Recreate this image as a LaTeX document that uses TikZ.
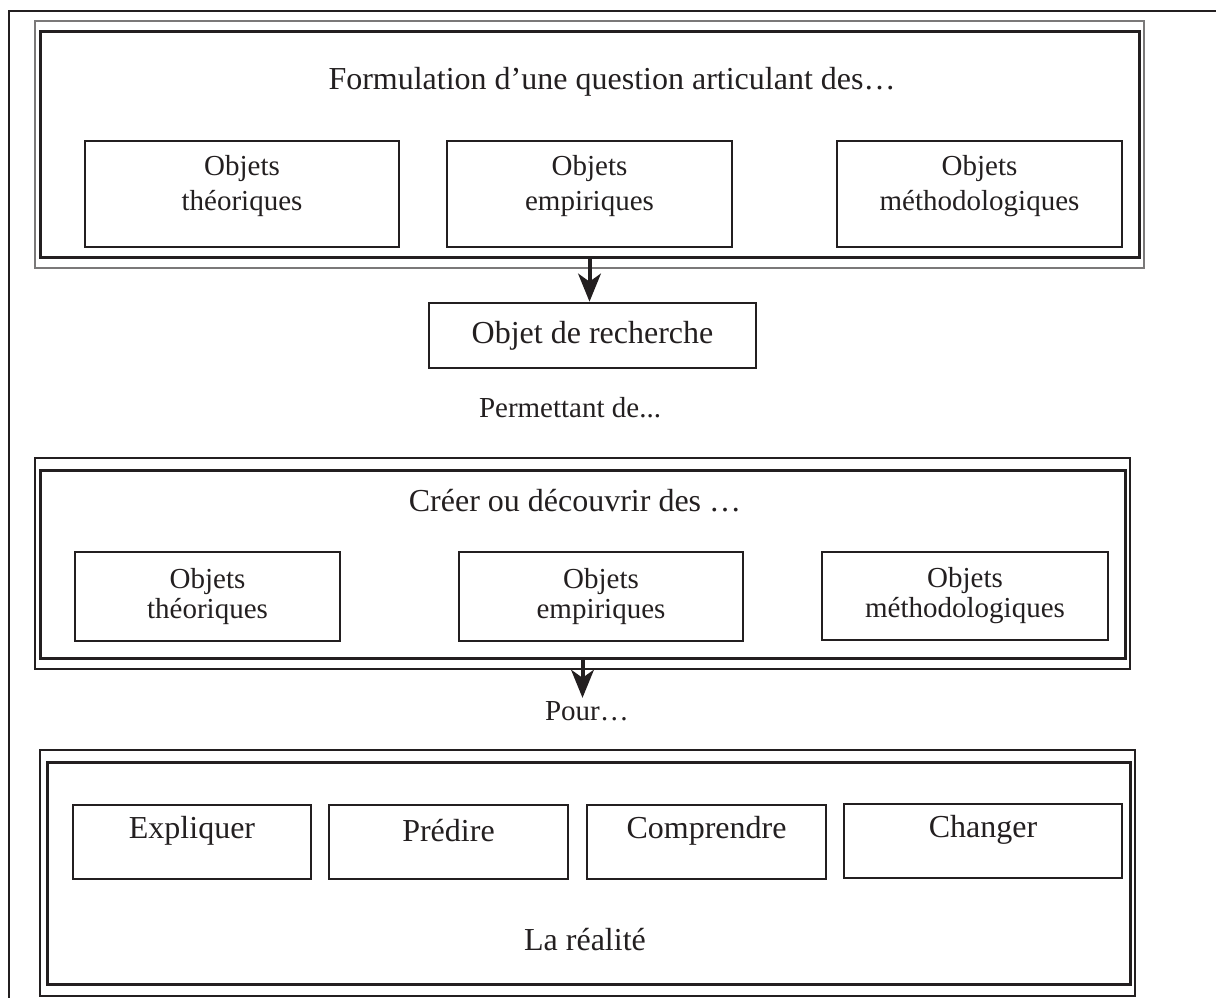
\documentclass[tikz,border=0pt]{standalone}
\usepackage{fontspec}
\setmainfont{Liberation Serif}
\usetikzlibrary{arrows.meta,fit}
\definecolor{ink}{RGB}{35,31,32}
\tikzset{every picture/.style={line width=0.75pt}}
\tikzset{
  frameline/.style={draw=ink, line width=2.25pt, inner sep=0pt},
  thinframe/.style={draw=ink!60, line width=0.9pt, inner sep=0pt},
  midframe/.style={draw=ink, line width=1.5pt, inner sep=0pt},
  bigtext/.style={text=ink, inner sep=2pt, font=\fontsize{24}{28}\selectfont},
  smalltext/.style={text=ink, inner sep=2pt, font=\fontsize{21.75}{26}\selectfont},
  objbox/.style={draw=ink, line width=2pt, inner sep=0pt, align=center, text=ink, font=\fontsize{21.75}{26.25}\selectfont},
  boxlabel/.style={text=ink, align=center, inner sep=0pt, yshift=6pt, font=\fontsize{21.75}{26.25}\selectfont},
  objboxtight/.style={objbox, font=\fontsize{21.75}{22.5}\selectfont},
  actbox/.style={draw=ink, line width=2pt, inner sep=0pt, text=ink, text height=25.5pt, text depth=29.25pt, font=\fontsize{24}{28}\selectfont},
  bigarrow/.style={draw=ink, line width=3pt, -{Stealth[length=21pt,width=17pt,inset=6pt]}}
}
\begin{document}
\begin{tikzpicture}[x=0.75pt,y=0.75pt,yscale=-1,xscale=1]
\useasboundingbox (0,0) rectangle (1216,998);
%Page frame
\draw [ink, line width=1.5pt] (9,998) -- (9,11) -- (1216,11);

%Frame 1: question
\node [thinframe, fit={(35,21) (1144,268)}] (frameA) {};
\node [frameline, fit={(40,32) (1139,258)}] (frameAin) {};
% Text Node
\node [bigtext, anchor=base] (formulation) at (612,90) {Formulation d’une question articulant des…};
\node [objbox, minimum width=235.5pt, minimum height=79.5pt, label={[boxlabel]center:Objets\\théoriques}] (theoA) at (242,194) {};
\node [objbox, minimum width=213.75pt, minimum height=79.5pt, label={[boxlabel]center:Objets\\empiriques}] (empiA) at (589.5,194) {};
\node [objbox, minimum width=213.75pt, minimum height=79.5pt, label={[boxlabel]center:Objets\\méthodologiques}] (methoA) at (979.5,194) {};

%Objet de recherche
\node [objbox, font=\fontsize{24}{28}\selectfont, minimum width=245.25pt, minimum height=48.75pt] (recherche) at (592.5,335.5) {Objet de recherche};
\draw [bigarrow] (frameAin.south) -- (frameAin.south |- recherche.north);
% Text Node
\node [smalltext, anchor=base] (permettant) at (570,417) {Permettant de...};

%Frame 2: creer
\node [midframe, fit={(35,458) (1130,669)}] (frameB) {};
\node [frameline, fit={(40,470) (1125,658)}] (frameBin) {};
% Text Node
\node [bigtext, anchor=base] (creer) at (575,511) {Créer ou découvrir des …};
\node [objboxtight, minimum width=198.75pt, minimum height=66.75pt] (theoB) at (207.5,596.5) {Objets\\théoriques};
\node [objboxtight, minimum width=213pt, minimum height=66.75pt] (empiB) at (601,596.5) {Objets\\empiriques};
\node [objboxtight, line width=1pt, minimum width=214.5pt, minimum height=66pt] (methoB) at (965,596) {Objets\\méthodologiques};

% Text Node
\node [smalltext, anchor=base] (pour) at (587,720) {Pour…};
\draw [bigarrow] (frameBin.south) -- (frameBin.south |- pour.north);

%Frame 3: realite
\node [midframe, fit={(40,750) (1135,996)}] (frameC) {};
\node [frameline, fit={(47,762) (1130,984)}] (frameCin) {};
\node [actbox, fit={(73,805) (311,879)}] (expliquer) {Expliquer};
\node [actbox, fit={(329,805) (568,879)}] (predire) {Prédire};
\node [actbox, fit={(587,805) (826,879)}] (comprendre) {Comprendre};
\node [actbox, fit={(844,804) (1122,878)}] (changer) {Changer};
% Text Node
\node [bigtext, anchor=base] (realite) at (585,950) {La réalité};
\end{tikzpicture}
\end{document}
